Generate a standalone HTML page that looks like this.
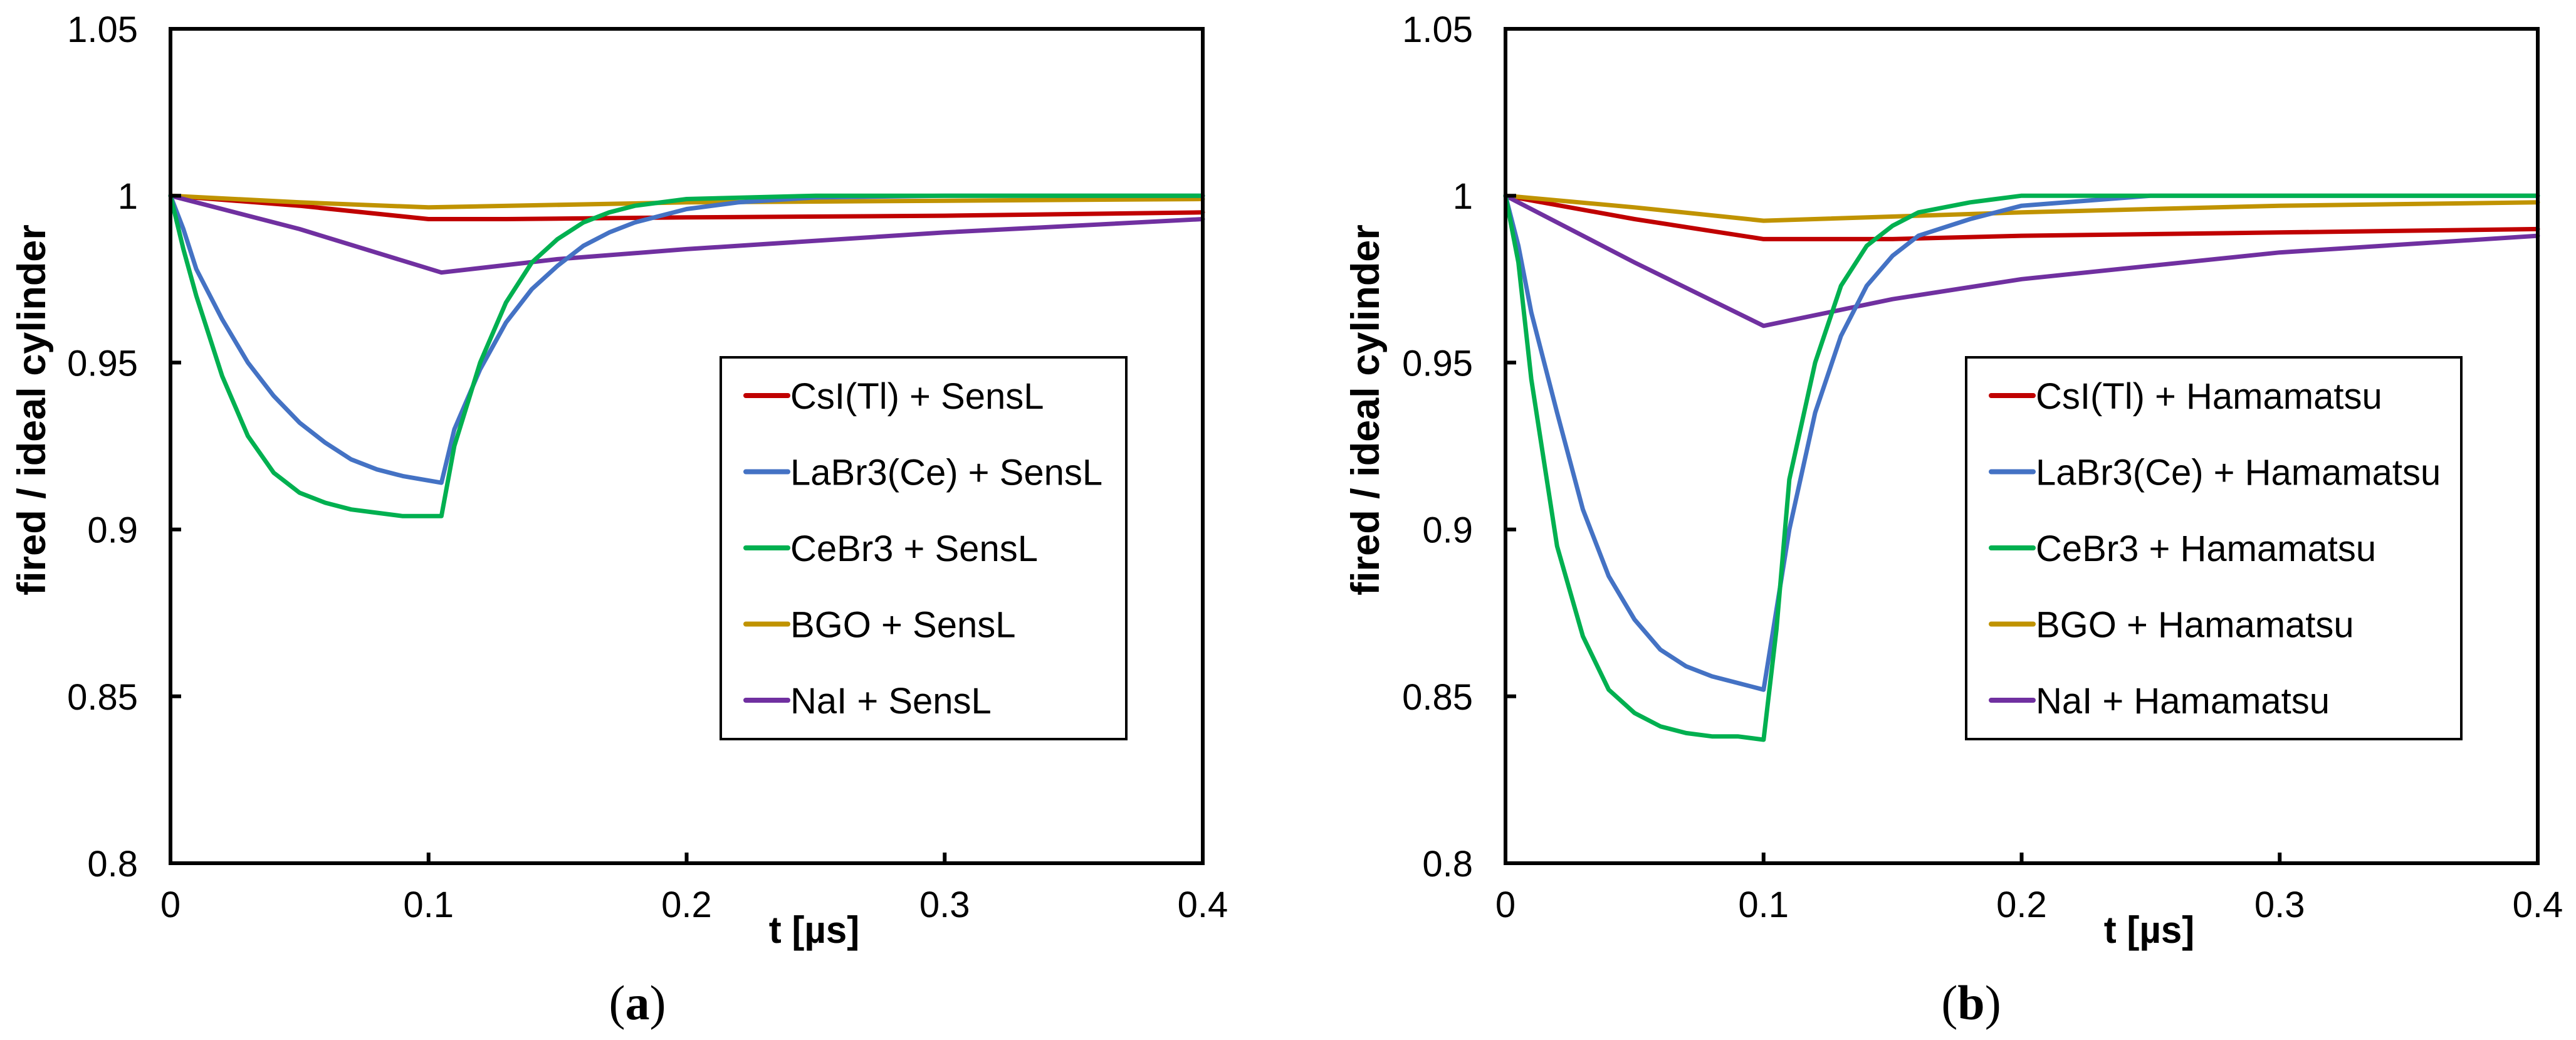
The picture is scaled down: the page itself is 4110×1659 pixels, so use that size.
<!DOCTYPE html>
<html><head><meta charset="utf-8"><style>
html,body{margin:0;padding:0;background:#fff;}
svg{display:block;font-family:"Liberation Sans",Arial,sans-serif;}
</style></head><body>
<svg id="chart" width="4110" height="1659" viewBox="0 0 4110 1659" xmlns="http://www.w3.org/2000/svg"></svg>
<script>
// ---- data ----
const xTicks = [0, 0.1, 0.2, 0.3, 0.4];
const xTickLabels = ["0", "0.1", "0.2", "0.3", "0.4"];
const yTicks = [0.8, 0.85, 0.9, 0.95, 1, 1.05];
const yTickLabels = ["0.8", "0.85", "0.9", "0.95", "1", "1.05"];
const seriesColors = ["#c00000", "#4472c4", "#00b050", "#c09300", "#7030a0"];
const namesA = ["CsI(Tl) + SensL", "LaBr3(Ce) + SensL", "CeBr3 + SensL", "BGO + SensL", "NaI + SensL"];
const namesB = ["CsI(Tl) + Hamamatsu", "LaBr3(Ce) + Hamamatsu", "CeBr3 + Hamamatsu", "BGO + Hamamatsu", "NaI + Hamamatsu"];

// panel (a)
const csiA_t = [0, 0.05, 0.1, 0.13, 0.2, 0.3, 0.4];
const csiA_v = [1, 0.997, 0.993, 0.993, 0.9935, 0.994, 0.995];
const bgoA_t = [0, 0.05, 0.1, 0.2, 0.3, 0.4];
const bgoA_v = [1, 0.998, 0.9965, 0.998, 0.9985, 0.999];
const naiA_t = [0, 0.05, 0.105, 0.15, 0.2, 0.3, 0.4];
const naiA_v = [1, 0.99, 0.977, 0.981, 0.984, 0.989, 0.993];
const labrA_t = [0, 0.005, 0.01, 0.02, 0.03, 0.04, 0.05, 0.06, 0.07, 0.08, 0.09, 0.105, 0.11, 0.12, 0.13, 0.14, 0.15, 0.16, 0.17, 0.18, 0.2, 0.22, 0.25, 0.3, 0.4];
const labrA_v = [1, 0.99, 0.978, 0.963, 0.95, 0.94, 0.932, 0.926, 0.921, 0.918, 0.916, 0.914, 0.93, 0.948, 0.962, 0.972, 0.979, 0.985, 0.989, 0.992, 0.996, 0.998, 0.9995, 1, 1];
const cebrA_t = [0, 0.005, 0.01, 0.02, 0.03, 0.04, 0.05, 0.06, 0.07, 0.08, 0.09, 0.105, 0.11, 0.12, 0.13, 0.14, 0.15, 0.16, 0.17, 0.18, 0.2, 0.25, 0.4];
const cebrA_v = [1, 0.984, 0.97, 0.946, 0.928, 0.917, 0.911, 0.908, 0.906, 0.905, 0.904, 0.904, 0.925, 0.95, 0.968, 0.98, 0.987, 0.992, 0.995, 0.997, 0.999, 1, 1];

// panel (b)
const csiB_t = [0, 0.05, 0.1, 0.15, 0.2, 0.3, 0.4];
const csiB_v = [1, 0.993, 0.987, 0.987, 0.988, 0.989, 0.990];
const bgoB_t = [0, 0.05, 0.1, 0.2, 0.3, 0.4];
const bgoB_v = [1, 0.9965, 0.9925, 0.995, 0.997, 0.998];
const naiB_t = [0, 0.05, 0.1, 0.15, 0.2, 0.3, 0.4];
const naiB_v = [1, 0.98, 0.961, 0.969, 0.975, 0.983, 0.988];
const labrB_t = [0, 0.005, 0.01, 0.02, 0.03, 0.04, 0.05, 0.06, 0.07, 0.08, 0.09, 0.1, 0.11, 0.12, 0.13, 0.14, 0.15, 0.16, 0.18, 0.2, 0.25, 0.4];
const labrB_v = [1, 0.985, 0.965, 0.935, 0.906, 0.886, 0.873, 0.864, 0.859, 0.856, 0.854, 0.852, 0.9, 0.935, 0.958, 0.973, 0.982, 0.988, 0.993, 0.997, 1, 1];
const cebrB_t = [0, 0.005, 0.01, 0.02, 0.03, 0.04, 0.05, 0.06, 0.07, 0.08, 0.09, 0.1, 0.105, 0.11, 0.12, 0.13, 0.14, 0.15, 0.16, 0.18, 0.2, 0.4];
const cebrB_v = [1, 0.98, 0.945, 0.895, 0.868, 0.852, 0.845, 0.841, 0.839, 0.838, 0.838, 0.837, 0.87, 0.915, 0.95, 0.973, 0.985, 0.991, 0.995, 0.998, 1, 1];

const panels = [
  {id:"a", x0:272, legX:1150, legW:647, tx:[csiA_t,labrA_t,cebrA_t,bgoA_t,naiA_t], vy:[csiA_v,labrA_v,cebrA_v,bgoA_v,naiA_v], names:namesA, titleX:50, capX:1017},
  {id:"b", x0:2402, legX:3137, legW:790, tx:[csiB_t,labrB_t,cebrB_t,bgoB_t,naiB_t], vy:[csiB_v,labrB_v,cebrB_v,bgoB_v,naiB_v], names:namesB, titleX:2178, capX:3145}
];
const drawOrder = [0, 3, 4, 1, 2];

const svg = document.getElementById("chart");
const NS = "http://www.w3.org/2000/svg";
function mk(tag, attrs, parent){
  const e = document.createElementNS(NS, tag);
  for (const k in attrs) e.setAttribute(k, attrs[k]);
  (parent||svg).appendChild(e);
  return e;
}
const TOP = 46, BOT = 1377, W = 1647;

panels.forEach(p => {
  const g = mk("g", {});
  
  
  const xs = t => p.x0 + t / 0.4 * W;
  const ys = v => BOT - (v - 0.8) / 0.25 * (BOT - TOP);

  drawOrder.forEach(i => {
    const pts = p.tx[i].map((t, j) => xs(t).toFixed(1) + "," + ys(p.vy[i][j]).toFixed(1)).join(" ");
    const pl = mk("polyline", {points: pts, fill: "none", stroke: seriesColors[i], "stroke-width": 7, "stroke-linejoin": "round", "stroke-linecap": "round"}, g);
    
    
  });

  const fr = mk("rect", {x: p.x0, y: TOP, width: W, height: BOT - TOP, fill: "none", stroke: "#000", "stroke-width": 6}, g);
  
  

  xTicks.forEach((t, i) => {
    const x = xs(t);
    if (i > 0 && i < xTicks.length - 1) mk("line", {x1: x, x2: x, y1: BOT, y2: BOT - 17, stroke: "#000", "stroke-width": 6}, g);
    const tl = mk("text", {x: x, y: 1463, "font-size": 58, "text-anchor": "middle", fill: "#000"}, g);
    tl.textContent = xTickLabels[i];
    
    
  });
  yTicks.forEach((v, i) => {
    const y = ys(v);
    if (i > 0 && i < yTicks.length - 1) mk("line", {x1: p.x0, x2: p.x0 + 17, y1: y, y2: y, stroke: "#000", "stroke-width": 6}, g);
    const tl = mk("text", {x: p.x0 - 52, y: y + 21, "font-size": 58, "text-anchor": "end", fill: "#000"}, g);
    tl.textContent = yTickLabels[i];
    
    
  });

  const xt = mk("text", {x: p.x0 + 1027, y: 1504, "font-size": 60, "font-weight": "bold", "text-anchor": "middle"}, g);
  xt.textContent = "t [µs]";
  
  
  const yt = mk("text", {x: 0, y: 0, "font-size": 63, "font-weight": "bold", "text-anchor": "middle", transform: "translate(" + (p.titleX + 22) + ",654) rotate(-90)"}, g);
  yt.textContent = "fired / ideal cylinder";
  
  

  const cap = mk("text", {x: p.capX, y: 1626, "font-size": 78, "text-anchor": "middle", "font-family": "Liberation Serif, serif"}, g);
  cap.innerHTML = '(<tspan font-weight="bold">' + p.id + '</tspan>)';
  
  

  const lg = mk("g", {}, g);
  
  
  mk("rect", {x: p.legX, y: 570, width: p.legW, height: 609, fill: "#fff", stroke: "#000", "stroke-width": 4}, lg);
  p.names.forEach((nm, i) => {
    const cy = 631 + i * 121.5;
    const e = mk("g", {}, lg);
    
    
    mk("line", {x1: p.legX + 40, x2: p.legX + 107, y1: cy, y2: cy, stroke: seriesColors[i], "stroke-width": 8, "stroke-linecap": "round"}, e);
    const t = mk("text", {x: p.legX + 111, y: cy + 21, "font-size": 58, fill: "#000"}, e);
    t.textContent = nm;
  });
});
</script>
</body></html>
